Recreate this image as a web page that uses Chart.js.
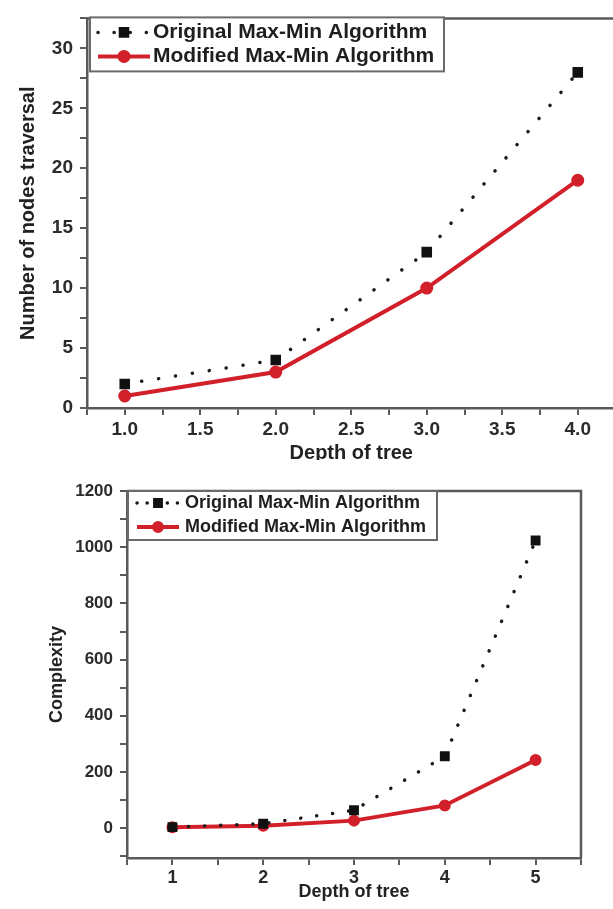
<!DOCTYPE html>
<html>
<head>
<meta charset="utf-8">
<script src="https://cdn.jsdelivr.net/npm/chart.js@4.4.1/dist/chart.umd.min.js"></script>
<style>
  html, body { margin: 0; padding: 0; background: #fff; overflow: hidden; }
  canvas { position: absolute; left: 0; }
  #chartA { top: 0; }
  #chartB { top: 460px; background: #fff; }
</style>
</head>
<body>
<canvas id="chartA" width="624" height="470"></canvas>
<canvas id="chartB" width="613" height="449"></canvas>
<script>
// chart 1: nodes traversed vs depth
const depthA = [1, 2, 3, 4];
const originalA = [2, 4, 13, 28];
const modifiedA = [1, 3, 10, 19];

// chart 2: complexity vs depth
const depthB = [1, 2, 3, 4, 5];
const originalB = [4, 16, 64, 256, 1024];
const modifiedB = [3, 9, 27, 81, 243];

const seriesNames = ['Original Max-Min Algorithm', 'Modified Max-Min Algorithm'];

Chart.defaults.font.family = "'Liberation Sans', Arial, sans-serif";
Chart.defaults.font.weight = 'bold';
Chart.defaults.color = '#2b2b2b';

const axisGray = '#5a5a5a';
const red = '#d2202a';

const toPoints = (xs, ys) => xs.map((x, i) => ({ x: x, y: ys[i] }));

// frame on top/right + boxed legend inside the plot
const boxLegend = {
  id: 'boxLegend',
  afterDraw(chart, args, o) {
    const { ctx, chartArea: a } = chart;
    ctx.save();
    ctx.strokeStyle = axisGray;
    ctx.lineWidth = 2.5;
    ctx.beginPath();
    ctx.moveTo(a.left, a.top);
    ctx.lineTo(a.right, a.top);
    ctx.lineTo(a.right, a.bottom);
    ctx.stroke();

    const x0 = a.left + o.x, y0 = a.top + o.y;
    ctx.fillStyle = '#fff';
    ctx.fillRect(x0, y0, o.w, o.h);
    ctx.strokeStyle = '#6a6a6a';
    ctx.lineWidth = 2;
    ctx.strokeRect(x0, y0, o.w, o.h);

    chart.data.datasets.forEach((ds, i) => {
      const cy = y0 + o.rows[i];
      const cx = x0 + o.symX;
      ctx.strokeStyle = ds.borderColor;
      ctx.lineWidth = ds.borderWidth;
      ctx.lineCap = ds.borderCapStyle || 'butt';
      ctx.setLineDash(ds.borderDash ? o.dash : []);
      ctx.beginPath();
      ctx.moveTo(cx - o.half, cy);
      ctx.lineTo(cx + o.half, cy);
      ctx.stroke();
      ctx.setLineDash([]);
      ctx.fillStyle = ds.pointBackgroundColor;
      ctx.strokeStyle = ds.pointBorderColor;
      Chart.helpers.drawPoint(ctx, { pointStyle: ds.pointStyle, radius: ds.pointRadius, borderWidth: 1, rotation: 0 }, cx, cy);
      ctx.fillStyle = '#1e1e1e';
      ctx.font = o.font;
      ctx.textBaseline = 'middle';
      ctx.textAlign = 'left';
      ctx.fillText(ds.label, x0 + o.textX, cy);
    });
    ctx.restore();
  }
};

function makeDatasets(orig, mod, rect, circ, dash) {
  return [{
    label: seriesNames[0],
    data: orig,
    borderColor: '#1a1a1a',
    borderWidth: 3.5,
    borderDash: [0.1, dash],
    borderCapStyle: 'round',
    pointStyle: 'rect',
    pointRadius: rect,
    pointBackgroundColor: '#111',
    pointBorderColor: '#111',
    tension: 0
  }, {
    label: seriesNames[1],
    data: mod,
    borderColor: red,
    borderWidth: 4,
    pointStyle: 'circle',
    pointRadius: circ,
    pointBackgroundColor: red,
    pointBorderColor: red,
    tension: 0
  }];
}

function axis(opts) {
  return Object.assign({
    type: 'linear',
    grid: { drawOnChartArea: false, drawTicks: true, tickLength: 7, color: axisGray, lineWidth: 2 },
    border: { color: axisGray, width: 2.5 }
  }, opts);
}

// tick marks every `step` between lo and hi (inclusive)
function stepTicks(lo, hi, step) {
  const out = [];
  for (let v = lo; v <= hi + 1e-9; v += step) out.push({ value: Math.round(v * 1000) / 1000 });
  return out;
}

// Chart 1
new Chart(document.getElementById('chartA'), {
  type: 'line',
  data: { datasets: makeDatasets(toPoints(depthA, originalA), toPoints(depthA, modifiedA), 5, 4.5, 17) },
  options: {
    responsive: false,
    animation: false,
    layout: { padding: { top: 11, right: 0, left: 0, bottom: 0 } },
    plugins: {
      legend: { display: false },
      tooltip: { enabled: false },
      boxLegend: { x: 3, y: -1, w: 354, h: 54, rows: [15, 39], symX: 34, half: 26, textX: 63, dash: [0.1, 16], font: "bold 21px 'Liberation Sans', Arial" }
    },
    scales: {
      x: axis({
        min: 0.75, max: 4.25,
        ticks: { padding: 3, maxRotation: 0, autoSkip: false, font: { size: 19 },
          callback: v => (Math.abs(v * 2 - Math.round(v * 2)) < 1e-9 && v >= 1 && v <= 4) ? v.toFixed(1) : '' },
        afterBuildTicks: s => { s.ticks = stepTicks(0.75, 4.25, 0.25); },
        title: { display: true, text: 'Depth of tree', font: { size: 20 }, color: '#222', padding: { top: 0, bottom: 5 } },
        afterFit: s => { s.height = 62; }
      }),
      y: axis({
        min: 0, max: 32.5,
        ticks: { padding: 7, autoSkip: false, font: { size: 19 },
          callback: v => (v % 5 === 0 ? v : '') },
        afterBuildTicks: s => { s.ticks = stepTicks(0, 32.5, 2.5); },
        title: { display: true, text: 'Number of nodes traversal', font: { size: 20 }, color: '#222', padding: { top: 16, bottom: 0 } },
        afterFit: s => { s.width = 87; }
      })
    }
  },
  plugins: [boxLegend]
});

// Chart 2
new Chart(document.getElementById('chartB'), {
  type: 'line',
  data: { datasets: makeDatasets(toPoints(depthB, originalB), toPoints(depthB, modifiedB), 4.5, 4, 16) },
  options: {
    responsive: false,
    animation: false,
    layout: { padding: { top: 31, right: 32, left: 0, bottom: 0 } },
    plugins: {
      legend: { display: false },
      tooltip: { enabled: false },
      boxLegend: { x: 1, y: 0, w: 309, h: 49, rows: [12, 36], symX: 30, half: 21, textX: 57, dash: [0.1, 10], font: "bold 18px 'Liberation Sans', Arial" }
    },
    scales: {
      x: axis({
        min: 0.5, max: 5.5,
        ticks: { padding: 2, maxRotation: 0, autoSkip: false, font: { size: 18 },
          callback: v => (Number.isInteger(v) ? v : '') },
        afterBuildTicks: s => { s.ticks = stepTicks(0.5, 5.5, 0.5); },
        title: { display: true, text: 'Depth of tree', font: { size: 18 }, color: '#222', padding: { top: 0, bottom: 6 } },
        afterFit: s => { s.height = 51; }
      }),
      y: axis({
        min: -106, max: 1200,
        ticks: { padding: 7, autoSkip: false, font: { size: 17 },
          callback: v => (v % 200 === 0 ? v : '') },
        afterBuildTicks: s => { s.ticks = stepTicks(-100, 1200, 100); },
        title: { display: true, text: 'Complexity', font: { size: 18 }, color: '#222', padding: { top: 46, bottom: 0 } },
        afterFit: s => { s.width = 127; }
      })
    }
  },
  plugins: [boxLegend]
});
</script>
</body>
</html>
